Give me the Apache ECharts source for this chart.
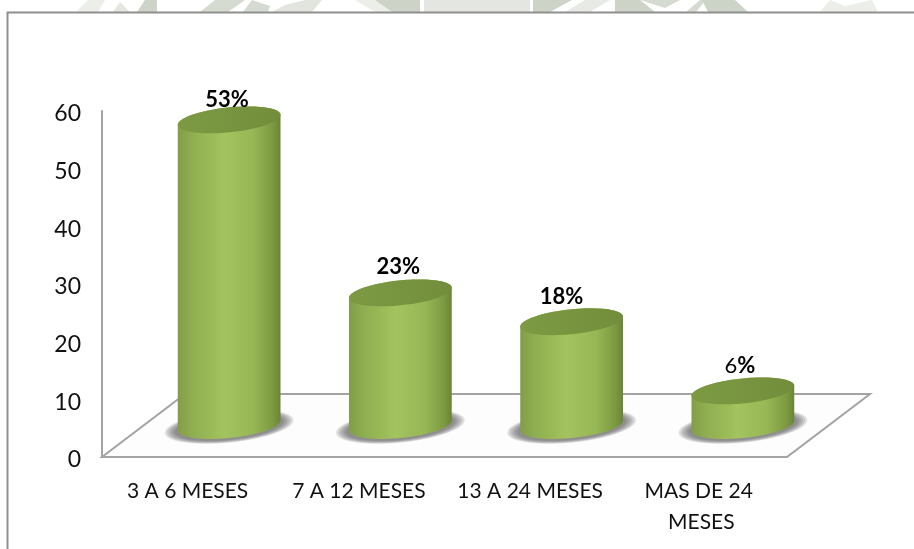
<!DOCTYPE html>
<html>
<head>
<meta charset="utf-8">
<style>html,body{margin:0;padding:0;background:#fff}#chart{width:914px;height:549px}</style>
<script src="https://cdn.jsdelivr.net/npm/echarts@6/dist/echarts.min.js"></script>
</head>
<body>
<div id="chart"></div>
<script>
// Chart content
const categories = ['3 A 6 MESES', '7 A 12 MESES', '13 A 24 MESES', 'MAS DE 24 MESES'];
const percentages = [53, 23, 18, 6];
const yTicks = { min: 0, max: 60, step: 10 };

// 3D look: how far the floor recedes, and where each label sits relative to its cylinder top
const FLOOR_DEPTH = [83, -63];
const LABEL_SHIFT = [[-2, -20], [-2, -26], [-10, -25], [-3, -25]];
const LABEL_FONT = 'Lato, "Open Sans", sans-serif';
const LINE_GREY = '#a3a3a3';
const SHADOW_LAYERS = [13, 11, 9, 7, 5, 3];

// Outline of a slightly tilted ellipse; shear lifts the right side
function ellipsePoints(cx, cy, a, b, from, to) {
  const shear = 0.097, pts = [], n = 48;
  for (let i = 0; i <= n; i++) {
    const t = from + (to - from) * i / n;
    const dx = a * Math.cos(t);
    pts.push([cx + dx, cy + b * Math.sin(t) - shear * dx]);
  }
  return pts;
}

function renderFloor(params, api) {
  const c = params.coordSys;
  const x0 = c.x, x1 = c.x + c.width, y0 = c.y + c.height;
  const [dx, dy] = FLOOR_DEPTH;
  return {
    type: 'polygon',
    shape: { points: [[x0, y0], [x0 + dx, y0 + dy], [x1 + dx, y0 + dy], [x1, y0]] },
    style: { fill: '#fdfdfd', stroke: LINE_GREY, lineWidth: 2 },
    silent: true
  };
}

function renderCylinder(params, api) {
  const i = api.value(0), v = api.value(1);
  const base = api.coord([i, 0]);
  const top = api.coord([i, v]);
  const cx = base[0] + FLOOR_DEPTH[0] / 2;
  const baseY = base[1] + FLOOR_DEPTH[1] / 2;
  const topY = top[1] + FLOOR_DEPTH[1] / 2;
  const a = api.size([1, 0])[0] * 0.3;
  const b = 12.5;

  const side = ellipsePoints(cx, baseY, a, b, Math.PI, 0)
    .concat(ellipsePoints(cx, topY, a, b, 0, -Math.PI));
  const sideFill = new echarts.graphic.LinearGradient(0, 0, 1, 0, [
    { offset: 0, color: '#829d48' },
    { offset: 0.14, color: '#8fae50' },
    { offset: 0.45, color: '#a2c35e' },
    { offset: 0.74, color: '#96b755' },
    { offset: 0.92, color: '#7d9a41' },
    { offset: 1, color: '#6a8438' }
  ]);
  const capFill = new echarts.graphic.LinearGradient(0, 0, 1, 0, [
    { offset: 0, color: '#7d9a43' },
    { offset: 1, color: '#728e3c' }
  ]);

  const shadows = SHADOW_LAYERS.map(grow => ({
    type: 'polygon',
    shape: { points: ellipsePoints(cx, baseY + 1, a + grow, b + grow * 0.28, 0, Math.PI * 2) },
    style: { fill: 'rgba(90,90,90,0.17)' }
  }));

  const shift = LABEL_SHIFT[i];
  const isBold = v >= 10;
  const labelText = isBold ? '{b|' + v + '%}' : '{r|' + v + '}{b|%}';

  return {
    type: 'group',
    children: shadows.concat([
      { type: 'polygon', shape: { points: side }, style: { fill: sideFill } },
      { type: 'polygon', shape: { points: ellipsePoints(cx, topY, a, b, 0, Math.PI * 2) }, style: { fill: capFill } },
      {
        type: 'text',
        x: cx + shift[0],
        y: topY + shift[1],
        style: {
          text: labelText,
          align: 'center',
          verticalAlign: 'middle',
          rich: {
            b: { fontFamily: LABEL_FONT, fontWeight: 'bold', fontSize: 22, fill: '#000', color: '#000' },
            r: { fontFamily: LABEL_FONT, fontWeight: 'normal', fontSize: 22, fill: '#000', color: '#000' }
          }
        }
      }
    ])
  };
}

// Pale watermark pieces showing above the chart frame
const WATERMARK = [
  ['#eceee9', [[76,12],[88,0],[105,0],[98,12]]],
  ['#e4e7e0', [[113,12],[120,2],[130,12]]],
  ['#ccd3c7', [[137,12],[145,0],[157,0],[157,12]]],
  ['#d6dbd1', [[200,12],[215,0],[245,0],[228,12]]],
  ['#d6dbd1', [[243,12],[252,0],[270,6],[268,12]]],
  ['#e2e5de', [[272,12],[285,5],[305,0],[322,0],[312,12]]],
  ['#eceee9', [[355,0],[375,0],[392,12],[375,12]]],
  ['#cdd3c7', [[375,0],[420,0],[420,12],[392,12]]],
  ['#e4e6e2', [[424,0],[530,0],[530,12],[424,12]]],
  ['#cdd3c7', [[533,0],[572,0],[550,12],[533,12]]],
  ['#e8ebe5', [[585,0],[610,0],[590,12],[565,12]]],
  ['#cdd3c7', [[615,0],[640,0],[655,12],[615,12]]],
  ['#d6dbd1', [[640,0],[680,0],[665,8]]],
  ['#d6dbd1', [[686,12],[700,0],[706,0],[696,12]]],
  ['#ccd3c7', [[702,0],[735,0],[748,12],[708,12]]],
  ['#eceee9', [[820,12],[830,0],[845,6],[872,0],[878,12]]]
];

const chart = echarts.init(document.getElementById('chart'));
chart.setOption({
  animation: false,
  backgroundColor: '#ffffff',
  grid: { left: 102, right: 127, top: 111, bottom: 92 },
  graphic: WATERMARK.map(([fill, points]) => ({
    type: 'polygon', silent: true, shape: { points }, style: { fill }
  })).concat([{
    type: 'polyline', silent: true,
    shape: { points: [[7.5, 560], [7.5, 12.5], [930, 12.5]] },
    style: { stroke: '#8f8f8f', lineWidth: 2, fill: 'none' }
  }]),
  xAxis: {
    type: 'category',
    data: categories,
    axisLine: { show: false },
    axisTick: { show: false },
    axisLabel: {
      interval: 0, margin: 19, width: 165, overflow: 'break',
      fontFamily: LABEL_FONT, fontSize: 21, lineHeight: 31, color: '#111'
    }
  },
  yAxis: {
    type: 'value',
    min: yTicks.min, max: yTicks.max, interval: yTicks.step,
    splitLine: { show: false },
    axisTick: { show: false },
    axisLine: { show: true, lineStyle: { color: LINE_GREY, width: 2 } },
    axisLabel: {
      margin: 21,
      formatter: '{v|{value}}',
      rich: { v: { padding: [6, 0, 0, 0], fontFamily: LABEL_FONT, fontSize: 23, color: '#111' } }
    }
  },
  series: [
    {
      type: 'custom', name: 'Floor', z: 1, silent: true,
      renderItem: renderFloor,
      data: [[0, 0]],
      encode: { x: 0, y: 1 }
    },
    {
      type: 'custom', name: 'Pacientes', z: 2,
      renderItem: renderCylinder,
      data: percentages.map((v, i) => [i, v]),
      encode: { x: 0, y: 1 },
      clip: false
    }
  ]
});
</script>
</body>
</html>
